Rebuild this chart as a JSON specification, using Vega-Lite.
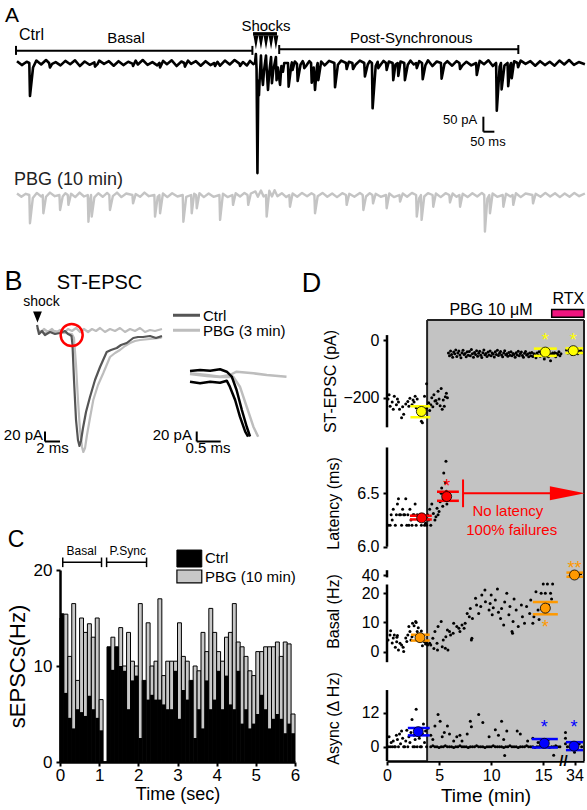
{"$schema":"https://vega.github.io/schema/vega-lite/v6.json","background":"white","padding":0,"width":587,"height":810,
"config":{"view":{"stroke":null},"font":"Liberation Sans","text":{"font":"Liberation Sans"},"axis":{"grid":false,"tickColor":"#000","labelColor":"#000","titleColor":"#000","domainColor":"#000","labelFont":"Liberation Sans","titleFont":"Liberation Sans","titleFontWeight":"normal","tickWidth":2,"tickSize":4,"domainWidth":2.5,"labelFontSize":16,"titleFontSize":16,"labelOverlap":false,"labelFlush":false}},
"datasets":{
"aBlack":[{"x":0,"y":6},{"x":22,"y":-7},{"x":44,"y":4},{"x":56,"y":0},{"x":59,"y":-110},{"x":73,"y":-15},{"x":88,"y":8},{"x":110,"y":-5},{"x":132,"y":10},{"x":146,"y":0},{"x":150,"y":-15},{"x":160,"y":-3},{"x":176,"y":3},{"x":198,"y":-8},{"x":220,"y":7},{"x":242,"y":-4},{"x":264,"y":9},{"x":286,"y":-10},{"x":308,"y":5},{"x":330,"y":-6},{"x":352,"y":2},{"x":355,"y":-12},{"x":366,"y":-4},{"x":374,"y":8},{"x":396,"y":-3},{"x":418,"y":6},{"x":440,"y":-9},{"x":462,"y":6},{"x":484,"y":-7},{"x":506,"y":4},{"x":525,"y":-2},{"x":528,"y":-10},{"x":540,"y":8},{"x":550,"y":-5},{"x":572,"y":10},{"x":594,"y":-6},{"x":616,"y":3},{"x":638,"y":-8},{"x":648,"y":0},{"x":651,"y":-15},{"x":665,"y":7},{"x":682,"y":-4},{"x":704,"y":9},{"x":726,"y":-10},{"x":748,"y":5},{"x":761,"y":0},{"x":764,"y":-12},{"x":778,"y":8},{"x":792,"y":-3},{"x":814,"y":6},{"x":836,"y":-9},{"x":858,"y":6},{"x":880,"y":-7},{"x":898,"y":0},{"x":901,"y":-10},{"x":912,"y":4},{"x":924,"y":-9},{"x":946,"y":8},{"x":968,"y":-5},{"x":990,"y":10},{"x":1012,"y":-2},{"x":1015,"y":-10},{"x":1028,"y":3},{"x":1046,"y":-8},{"x":1060,"y":7},{"x":1075,"y":-4},{"x":1083,"y":0},{"x":1087,"y":30},{"x":1090,"y":-20},{"x":1094,"y":-367},{"x":1098,"y":-60},{"x":1101,"y":-107},{"x":1105,"y":-40},{"x":1110,"y":25},{"x":1113,"y":-30},{"x":1119,"y":-73},{"x":1124,"y":-25},{"x":1133,"y":25},{"x":1136,"y":-20},{"x":1142,"y":-90},{"x":1148,"y":-30},{"x":1156,"y":20},{"x":1160,"y":-67},{"x":1166,"y":-25},{"x":1178,"y":20},{"x":1181,"y":-57},{"x":1187,"y":-15},{"x":1197,"y":-73},{"x":1203,"y":-10},{"x":1210,"y":-29},{"x":1216,"y":0},{"x":1233,"y":0},{"x":1236,"y":-79},{"x":1248,"y":-8},{"x":1251,"y":2},{"x":1254,"y":-23},{"x":1264,"y":5},{"x":1274,"y":-3},{"x":1277,"y":-60},{"x":1290,"y":-6},{"x":1300,"y":6},{"x":1304,"y":0},{"x":1307,"y":-17},{"x":1318,"y":-7},{"x":1330,"y":6},{"x":1338,"y":0},{"x":1341,"y":-66},{"x":1350,"y":-15},{"x":1356,"y":-90},{"x":1365,"y":-10},{"x":1368,"y":0},{"x":1371,"y":-57},{"x":1384,"y":5},{"x":1400,"y":-8},{"x":1420,"y":7},{"x":1444,"y":0},{"x":1447,"y":-81},{"x":1460,"y":-6},{"x":1475,"y":8},{"x":1497,"y":0},{"x":1500,"y":-20},{"x":1510,"y":4},{"x":1526,"y":0},{"x":1529,"y":-20},{"x":1540,"y":-6},{"x":1560,"y":8},{"x":1580,"y":0},{"x":1583,"y":-45},{"x":1596,"y":-5},{"x":1605,"y":6},{"x":1615,"y":0},{"x":1618,"y":-151},{"x":1632,"y":-10},{"x":1641,"y":4},{"x":1644,"y":-17},{"x":1656,"y":-4},{"x":1668,"y":7},{"x":1679,"y":0},{"x":1682,"y":-23},{"x":1692,"y":5},{"x":1709,"y":0},{"x":1712,"y":-57},{"x":1722,"y":-5},{"x":1732,"y":0},{"x":1735,"y":-43},{"x":1745,"y":5},{"x":1762,"y":0},{"x":1765,"y":-57},{"x":1778,"y":-6},{"x":1790,"y":8},{"x":1805,"y":-5},{"x":1816,"y":0},{"x":1819,"y":-17},{"x":1830,"y":6},{"x":1843,"y":0},{"x":1846,"y":-54},{"x":1858,"y":-8},{"x":1870,"y":9},{"x":1890,"y":-10},{"x":1910,"y":5},{"x":1929,"y":0},{"x":1932,"y":-52},{"x":1945,"y":-3},{"x":1958,"y":6},{"x":1980,"y":-9},{"x":2000,"y":6},{"x":2013,"y":0},{"x":2016,"y":-20},{"x":2028,"y":-7},{"x":2045,"y":4},{"x":2067,"y":-8},{"x":2089,"y":0},{"x":2092,"y":-40},{"x":2105,"y":7},{"x":2125,"y":-4},{"x":2145,"y":9},{"x":2165,"y":-10},{"x":2180,"y":0},{"x":2183,"y":-159},{"x":2196,"y":-12},{"x":2202,"y":0},{"x":2205,"y":-88},{"x":2218,"y":-8},{"x":2232,"y":0},{"x":2235,"y":-77},{"x":2245,"y":-5},{"x":2248,"y":0},{"x":2251,"y":-51},{"x":2262,"y":6},{"x":2277,"y":0},{"x":2280,"y":-14},{"x":2292,"y":8},{"x":2314,"y":-3},{"x":2336,"y":6},{"x":2358,"y":-9},{"x":2380,"y":6},{"x":2402,"y":-7},{"x":2424,"y":4},{"x":2446,"y":-9},{"x":2468,"y":8},{"x":2490,"y":-5},{"x":2512,"y":10},{"x":2534,"y":-6},{"x":2556,"y":3},{"x":2584,"y":-4}],
"aGray":[{"x":0,"y":5},{"x":20,"y":-6},{"x":40,"y":4},{"x":56,"y":0},{"x":59,"y":-94},{"x":72,"y":-10},{"x":90,"y":7},{"x":110,"y":-5},{"x":117,"y":0},{"x":120,"y":-61},{"x":132,"y":-6},{"x":150,"y":8},{"x":172,"y":-4},{"x":193,"y":0},{"x":196,"y":-50},{"x":208,"y":-5},{"x":220,"y":6},{"x":231,"y":0},{"x":234,"y":-33},{"x":246,"y":4},{"x":265,"y":-7},{"x":285,"y":8},{"x":305,"y":-5},{"x":322,"y":0},{"x":325,"y":-89},{"x":332,"y":-15},{"x":337,"y":0},{"x":340,"y":-72},{"x":352,"y":-8},{"x":370,"y":6},{"x":390,"y":-6},{"x":410,"y":7},{"x":420,"y":0},{"x":423,"y":-50},{"x":436,"y":-4},{"x":455,"y":8},{"x":475,"y":-7},{"x":497,"y":5},{"x":525,"y":0},{"x":528,"y":-28},{"x":540,"y":3},{"x":560,"y":-6},{"x":580,"y":8},{"x":600,"y":-4},{"x":625,"y":0},{"x":628,"y":-72},{"x":640,"y":-6},{"x":648,"y":0},{"x":651,"y":-61},{"x":664,"y":5},{"x":684,"y":-7},{"x":706,"y":6},{"x":730,"y":-5},{"x":754,"y":0},{"x":757,"y":-89},{"x":770,"y":-6},{"x":792,"y":0},{"x":795,"y":-61},{"x":806,"y":4},{"x":815,"y":0},{"x":818,"y":-44},{"x":830,"y":6},{"x":850,"y":-7},{"x":872,"y":5},{"x":894,"y":-6},{"x":921,"y":0},{"x":924,"y":-83},{"x":937,"y":4},{"x":958,"y":-7},{"x":980,"y":0},{"x":983,"y":-33},{"x":995,"y":6},{"x":1015,"y":-5},{"x":1035,"y":7},{"x":1049,"y":0},{"x":1052,"y":-33},{"x":1064,"y":5},{"x":1085,"y":12},{"x":1096,"y":-6},{"x":1110,"y":15},{"x":1122,"y":-5},{"x":1133,"y":0},{"x":1136,"y":-72},{"x":1148,"y":14},{"x":1160,"y":-5},{"x":1172,"y":16},{"x":1185,"y":-4},{"x":1205,"y":6},{"x":1225,"y":-7},{"x":1239,"y":0},{"x":1242,"y":-39},{"x":1254,"y":5},{"x":1275,"y":-6},{"x":1297,"y":7},{"x":1320,"y":-4},{"x":1340,"y":6},{"x":1353,"y":0},{"x":1356,"y":-61},{"x":1368,"y":-4},{"x":1390,"y":7},{"x":1412,"y":-6},{"x":1434,"y":5},{"x":1456,"y":-7},{"x":1480,"y":6},{"x":1497,"y":0},{"x":1500,"y":-33},{"x":1512,"y":4},{"x":1535,"y":-6},{"x":1560,"y":7},{"x":1573,"y":0},{"x":1576,"y":-50},{"x":1588,"y":-5},{"x":1605,"y":6},{"x":1617,"y":0},{"x":1620,"y":-28},{"x":1632,"y":4},{"x":1655,"y":-6},{"x":1679,"y":0},{"x":1682,"y":-44},{"x":1694,"y":5},{"x":1715,"y":-7},{"x":1740,"y":0},{"x":1743,"y":-22},{"x":1755,"y":5},{"x":1775,"y":-6},{"x":1797,"y":7},{"x":1816,"y":0},{"x":1819,"y":-72},{"x":1830,"y":-10},{"x":1838,"y":0},{"x":1841,"y":-83},{"x":1853,"y":-5},{"x":1870,"y":6},{"x":1891,"y":0},{"x":1894,"y":-39},{"x":1906,"y":5},{"x":1928,"y":-7},{"x":1950,"y":6},{"x":1967,"y":0},{"x":1970,"y":-25},{"x":1982,"y":5},{"x":2000,"y":-6},{"x":2013,"y":0},{"x":2016,"y":-39},{"x":2028,"y":4},{"x":2050,"y":-7},{"x":2072,"y":6},{"x":2094,"y":-5},{"x":2115,"y":7},{"x":2126,"y":0},{"x":2129,"y":-122},{"x":2140,"y":-12},{"x":2149,"y":0},{"x":2152,"y":-61},{"x":2164,"y":5},{"x":2185,"y":-6},{"x":2210,"y":0},{"x":2213,"y":-39},{"x":2225,"y":4},{"x":2245,"y":-5},{"x":2255,"y":0},{"x":2258,"y":-33},{"x":2270,"y":6},{"x":2292,"y":-7},{"x":2314,"y":5},{"x":2345,"y":0},{"x":2348,"y":-28},{"x":2360,"y":4},{"x":2382,"y":-6},{"x":2404,"y":7},{"x":2426,"y":-5},{"x":2448,"y":6},{"x":2470,"y":-7},{"x":2492,"y":5},{"x":2514,"y":-6},{"x":2536,"y":7},{"x":2558,"y":-4},{"x":2584,"y":5}],
"bCtrl":[{"x":-0.13,"y":16},{"x":0.13,"y":-2},{"x":0.53,"y":4},{"x":0.93,"y":-4},{"x":1.6,"y":2},{"x":2.27,"y":-2},{"x":2.93,"y":0},{"x":3.6,"y":4},{"x":4.0,"y":-2},{"x":4.27,"y":-4},{"x":4.47,"y":-6},{"x":4.6,"y":-24},{"x":4.8,"y":-94},{"x":5.07,"y":-174},{"x":5.33,"y":-214},{"x":5.53,"y":-226},{"x":5.73,"y":-216},{"x":6.0,"y":-190},{"x":6.4,"y":-158},{"x":6.93,"y":-128},{"x":7.6,"y":-94},{"x":8.27,"y":-68},{"x":9.16,"y":-38},{"x":9.73,"y":-34},{"x":10.5,"y":-30},{"x":11.07,"y":-24},{"x":11.83,"y":-20},{"x":12.7,"y":-10},{"x":13.33,"y":-8},{"x":14.0,"y":-8},{"x":14.93,"y":-6},{"x":15.73,"y":-10},{"x":16.53,"y":-6}],
"bPbg":[{"x":-0.13,"y":6},{"x":0.93,"y":0},{"x":2.27,"y":4},{"x":3.6,"y":0},{"x":4.53,"y":-2},{"x":4.8,"y":-10},{"x":5.07,"y":-64},{"x":5.33,"y":-134},{"x":5.6,"y":-194},{"x":5.87,"y":-228},{"x":6.04,"y":-238},{"x":6.27,"y":-230},{"x":6.53,"y":-204},{"x":6.93,"y":-170},{"x":7.37,"y":-134},{"x":8.0,"y":-104},{"x":8.71,"y":-80},{"x":9.6,"y":-48},{"x":10.27,"y":-40},{"x":10.93,"y":-34},{"x":11.6,"y":-26},{"x":12.27,"y":-20},{"x":12.93,"y":-16},{"x":13.6,"y":-14},{"x":14.93,"y":-12},{"x":16.27,"y":-10},{"x":16.53,"y":-8}],
"bFail":[{"x":-0.13,"y":10},{"x":0.27,"y":0},{"x":0.8,"y":8},{"x":1.33,"y":2},{"x":1.87,"y":8},{"x":2.4,"y":0},{"x":2.93,"y":6},{"x":3.47,"y":0},{"x":4.0,"y":8},{"x":4.53,"y":4},{"x":5.07,"y":10},{"x":5.6,"y":2},{"x":6.13,"y":8},{"x":6.67,"y":2},{"x":7.2,"y":8},{"x":7.73,"y":4},{"x":8.27,"y":10},{"x":8.93,"y":2},{"x":9.6,"y":8},{"x":10.27,"y":4},{"x":10.93,"y":10},{"x":11.6,"y":2},{"x":12.27,"y":8},{"x":12.93,"y":4},{"x":13.6,"y":10},{"x":14.27,"y":2},{"x":14.93,"y":6},{"x":15.6,"y":4},{"x":16.53,"y":8}],
"iB1":[{"x":0,"y":8},{"x":0.21,"y":10},{"x":0.42,"y":8.6},{"x":0.625,"y":11.4},{"x":0.765,"y":6.6},{"x":0.87,"y":-3.4},{"x":0.97,"y":-30},{"x":1.08,"y":-70},{"x":1.18,"y":-103},{"x":1.25,"y":-123}],
"iB2":[{"x":0,"y":-13.4},{"x":0.21,"y":-16.6},{"x":0.42,"y":-13.4},{"x":0.625,"y":-15.4},{"x":0.765,"y":-11.4},{"x":0.83,"y":-23.4},{"x":0.94,"y":-50},{"x":1.04,"y":-83.4},{"x":1.15,"y":-113.4},{"x":1.21,"y":-123.4}],
"iGF":[{"x":0,"y":3.4},{"x":0.35,"y":0},{"x":0.625,"y":-3.4},{"x":0.83,"y":0},{"x":0.97,"y":6.6},{"x":1.32,"y":3.4},{"x":1.6,"y":0},{"x":2.01,"y":-3.4}],
"iGR":[{"x":0,"y":2},{"x":0.35,"y":-2},{"x":0.625,"y":-4},{"x":0.9,"y":-3.4},{"x":1.04,"y":-23.4},{"x":1.18,"y":-63.4},{"x":1.32,"y":-103.4},{"x":1.42,"y":-123.4}],
"cHist":[{"t":0.0,"t2":0.1,"c":15.5,"p":15.0},{"t":0.1,"t2":0.2,"c":7.2,"p":15.4},{"t":0.2,"t2":0.3,"c":4.6,"p":11.0},{"t":0.3,"t2":0.4,"c":3.5,"p":16.5},{"t":0.4,"t2":0.5,"c":5.5,"p":8.5},{"t":0.5,"t2":0.6,"c":5.2,"p":15.0},{"t":0.6,"t2":0.7,"c":4.8,"p":13.5},{"t":0.7,"t2":0.8,"c":6.9,"p":14.4},{"t":0.8,"t2":0.9,"c":5.5,"p":13.0},{"t":0.9,"t2":1.0,"c":4.6,"p":15.0},{"t":1.0,"t2":1.1,"c":3.3,"p":6.5},{"t":1.1,"t2":1.2,"c":0,"p":0},{"t":1.2,"t2":1.3,"c":12.0,"p":12.0},{"t":1.3,"t2":1.4,"c":9.6,"p":13.0},{"t":1.4,"t2":1.5,"c":12.0,"p":12.0},{"t":1.5,"t2":1.6,"c":10.0,"p":14.0},{"t":1.6,"t2":1.7,"c":9.5,"p":10.0},{"t":1.7,"t2":1.8,"c":5.5,"p":13.5},{"t":1.8,"t2":1.9,"c":8.5,"p":10.5},{"t":1.9,"t2":2.0,"c":9.0,"p":10.0},{"t":2.0,"t2":2.1,"c":2.5,"p":16.5},{"t":2.1,"t2":2.2,"c":8.5,"p":8.5},{"t":2.2,"t2":2.3,"c":6.5,"p":14.5},{"t":2.3,"t2":2.4,"c":7.0,"p":10.0},{"t":2.4,"t2":2.5,"c":6.5,"p":10.5},{"t":2.5,"t2":2.6,"c":6.5,"p":17.0},{"t":2.6,"t2":2.7,"c":6.0,"p":9.0},{"t":2.7,"t2":2.8,"c":5.5,"p":10.5},{"t":2.8,"t2":2.9,"c":5.5,"p":10.5},{"t":2.9,"t2":3.0,"c":9.5,"p":10.5},{"t":3.0,"t2":3.1,"c":4.5,"p":14.5},{"t":3.1,"t2":3.2,"c":7.5,"p":11.0},{"t":3.2,"t2":3.3,"c":6.5,"p":10.5},{"t":3.3,"t2":3.4,"c":8.5,"p":8.5},{"t":3.4,"t2":3.5,"c":2.5,"p":10.0},{"t":3.5,"t2":3.6,"c":5.5,"p":9.5},{"t":3.6,"t2":3.7,"c":3.5,"p":13.5},{"t":3.7,"t2":3.8,"c":8.5,"p":11.5},{"t":3.8,"t2":3.9,"c":5.5,"p":16.0},{"t":3.9,"t2":4.0,"c":6.5,"p":13.5},{"t":4.0,"t2":4.1,"c":9.5,"p":11.5},{"t":4.1,"t2":4.2,"c":5.5,"p":10.5},{"t":4.2,"t2":4.3,"c":9.0,"p":13.0},{"t":4.3,"t2":4.4,"c":6.0,"p":13.5},{"t":4.4,"t2":4.5,"c":5.5,"p":16.5},{"t":4.5,"t2":4.6,"c":9.5,"p":12.5},{"t":4.6,"t2":4.7,"c":4.0,"p":12.0},{"t":4.7,"t2":4.8,"c":5.5,"p":11.0},{"t":4.8,"t2":4.9,"c":3.5,"p":9.5},{"t":4.9,"t2":5.0,"c":4.0,"p":9.0},{"t":5.0,"t2":5.1,"c":5.0,"p":11.5},{"t":5.1,"t2":5.2,"c":7.0,"p":11.5},{"t":5.2,"t2":5.3,"c":5.5,"p":12.0},{"t":5.3,"t2":5.4,"c":3.5,"p":12.0},{"t":5.4,"t2":5.5,"c":4.5,"p":12.0},{"t":5.5,"t2":5.6,"c":5.0,"p":12.5},{"t":5.6,"t2":5.7,"c":4.5,"p":11.0},{"t":5.7,"t2":5.8,"c":3.0,"p":12.5},{"t":5.8,"t2":5.9,"c":4.0,"p":12.3},{"t":5.9,"t2":6.0,"c":3.0,"p":5.0}],
"dSt":[{"x":0.1,"y":-205},{"x":0.2,"y":-190},{"x":0.3,"y":-230},{"x":0.5,"y":-215},{"x":0.6,"y":-240},{"x":0.7,"y":-195},{"x":0.9,"y":-225},{"x":1.0,"y":-205},{"x":1.1,"y":-215},{"x":1.2,"y":-240},{"x":1.4,"y":-270},{"x":1.5,"y":-232},{"x":1.6,"y":-258},{"x":1.8,"y":-222},{"x":2.0,"y":-213},{"x":2.1,"y":-230},{"x":2.2,"y":-202},{"x":2.4,"y":-225},{"x":2.5,"y":-208},{"x":2.6,"y":-215},{"x":2.7,"y":-195},{"x":2.8,"y":-235},{"x":2.9,"y":-205},{"x":3.0,"y":-245},{"x":3.1,"y":-258},{"x":3.2,"y":-240},{"x":3.3,"y":-282},{"x":3.4,"y":-287},{"x":3.6,"y":-195},{"x":3.7,"y":-250},{"x":3.8,"y":-152},{"x":3.8,"y":-236},{"x":4.0,"y":-218},{"x":4.1,"y":-245},{"x":4.2,"y":-225},{"x":4.3,"y":-200},{"x":4.4,"y":-232},{"x":4.5,"y":-190},{"x":4.6,"y":-212},{"x":4.7,"y":-210},{"x":4.8,"y":-220},{"x":4.9,"y":-178},{"x":5.0,"y":-205},{"x":5.1,"y":-228},{"x":5.2,"y":-168},{"x":5.3,"y":-240},{"x":5.4,"y":-208},{"x":5.5,"y":-230},{"x":5.6,"y":-197},{"x":5.7,"y":-185},{"x":5.8,"y":-200},{"x":5.9,"y":-45},{"x":6.0,"y":-55},{"x":6.1,"y":-38},{"x":6.2,"y":-50},{"x":6.3,"y":-60},{"x":6.4,"y":-42},{"x":6.5,"y":-48},{"x":6.6,"y":-35},{"x":6.7,"y":-57},{"x":6.8,"y":-45},{"x":6.9,"y":-38},{"x":7.0,"y":-52},{"x":7.1,"y":-62},{"x":7.2,"y":-44},{"x":7.3,"y":-36},{"x":7.4,"y":-50},{"x":7.5,"y":-47},{"x":7.6,"y":-58},{"x":7.7,"y":-41},{"x":7.8,"y":-53},{"x":7.9,"y":-40},{"x":8.0,"y":-55},{"x":8.1,"y":-33},{"x":8.2,"y":-48},{"x":8.3,"y":-60},{"x":8.4,"y":-43},{"x":8.5,"y":-50},{"x":8.6,"y":-37},{"x":8.7,"y":-56},{"x":8.8,"y":-46},{"x":8.9,"y":-39},{"x":9.0,"y":-53},{"x":9.1,"y":-61},{"x":9.2,"y":-44},{"x":9.3,"y":-35},{"x":9.4,"y":-51},{"x":9.5,"y":-47},{"x":9.6,"y":-57},{"x":9.7,"y":-42},{"x":9.8,"y":-52},{"x":9.9,"y":-38},{"x":10.0,"y":-55},{"x":10.1,"y":-45},{"x":10.2,"y":-49},{"x":10.3,"y":-59},{"x":10.4,"y":-41},{"x":10.5,"y":-50},{"x":10.6,"y":-36},{"x":10.7,"y":-54},{"x":10.8,"y":-46},{"x":10.9,"y":-40},{"x":11.0,"y":-52},{"x":11.1,"y":-58},{"x":11.2,"y":-45},{"x":11.3,"y":-37},{"x":11.4,"y":-51},{"x":11.5,"y":-48},{"x":11.6,"y":-56},{"x":11.7,"y":-43},{"x":11.8,"y":-53},{"x":11.9,"y":-41},{"x":12.0,"y":-55},{"x":12.1,"y":-47},{"x":12.2,"y":-50},{"x":12.3,"y":-60},{"x":12.4,"y":-44},{"x":12.5,"y":-52},{"x":12.6,"y":-39},{"x":12.7,"y":-55},{"x":12.8,"y":-47},{"x":12.9,"y":-42},{"x":13.0,"y":-54},{"x":13.1,"y":-60},{"x":13.2,"y":-46},{"x":13.3,"y":-40},{"x":13.4,"y":-52},{"x":13.5,"y":-49},{"x":13.6,"y":-58},{"x":13.7,"y":-45},{"x":13.8,"y":-55},{"x":13.9,"y":-43},{"x":14.0,"y":-57},{"x":14.1,"y":-48},{"x":14.2,"y":-51},{"x":14.3,"y":-62},{"x":14.4,"y":-45},{"x":14.5,"y":-53},{"x":14.6,"y":-41},{"x":14.7,"y":-56},{"x":14.8,"y":-49},{"x":14.9,"y":-44},{"x":15.0,"y":-55},{"x":15.1,"y":-66},{"x":15.2,"y":-47},{"x":15.3,"y":-40},{"x":15.4,"y":-52},{"x":15.5,"y":-58},{"x":15.6,"y":-48},{"x":15.7,"y":-72},{"x":15.8,"y":-50},{"x":15.9,"y":-45},{"x":16.0,"y":-52},{"x":16.1,"y":-44},{"x":16.2,"y":-58},{"x":16.3,"y":-47},{"x":16.4,"y":-50},{"x":16.5,"y":-41},{"x":16.6,"y":-55},{"x":16.7,"y":-48},{"x":32.3,"y":-35},{"x":32.6,"y":-45},{"x":32.9,"y":-30},{"x":33.2,"y":-42},{"x":33.5,"y":-50},{"x":33.8,"y":-38},{"x":34.1,"y":-45},{"x":34.4,"y":-33},{"x":34.7,"y":-48},{"x":35.0,"y":-40},{"x":35.3,"y":-36},{"x":35.6,"y":-44}],
"dLat":[{"x":0.1,"y":6.2},{"x":0.3,"y":6.2},{"x":0.4,"y":6.3},{"x":0.5,"y":6.25},{"x":0.6,"y":6.35},{"x":0.8,"y":6.2},{"x":0.9,"y":6.3},{"x":1.0,"y":6.4},{"x":1.1,"y":6.45},{"x":1.2,"y":6.3},{"x":1.3,"y":6.3},{"x":1.4,"y":6.2},{"x":1.5,"y":6.35},{"x":1.6,"y":6.3},{"x":1.7,"y":6.3},{"x":1.8,"y":6.45},{"x":1.9,"y":6.2},{"x":2.0,"y":6.3},{"x":2.1,"y":6.2},{"x":2.2,"y":6.35},{"x":2.3,"y":6.25},{"x":2.4,"y":6.2},{"x":2.5,"y":6.3},{"x":2.6,"y":6.3},{"x":2.7,"y":6.4},{"x":2.8,"y":6.2},{"x":2.9,"y":6.3},{"x":3.0,"y":6.25},{"x":3.2,"y":6.3},{"x":3.3,"y":6.2},{"x":3.4,"y":6.25},{"x":3.5,"y":6.3},{"x":3.6,"y":6.2},{"x":3.7,"y":6.22},{"x":3.8,"y":6.2},{"x":3.9,"y":6.3},{"x":4.0,"y":6.25},{"x":4.1,"y":6.35},{"x":4.2,"y":6.2},{"x":4.3,"y":6.4},{"x":4.45,"y":6.31},{"x":4.6,"y":6.25},{"x":4.7,"y":6.28},{"x":4.8,"y":6.36},{"x":4.9,"y":6.3},{"x":5.0,"y":6.33},{"x":5.1,"y":6.42},{"x":5.2,"y":6.5},{"x":5.25,"y":6.55},{"x":5.35,"y":6.38},{"x":5.4,"y":6.45},{"x":5.45,"y":6.69},{"x":5.5,"y":6.44},{"x":5.55,"y":6.5},{"x":5.6,"y":6.48},{"x":5.62,"y":6.6},{"x":5.66,"y":6.8},{"x":5.7,"y":6.52},{"x":5.75,"y":6.4},{"x":5.8,"y":6.46},{"x":5.9,"y":6.5},{"x":6.0,"y":6.47}],
"dBas":[{"x":0.1,"y":4.0},{"x":0.29,"y":5.7},{"x":0.35,"y":7.2},{"x":0.5,"y":3.0},{"x":0.6,"y":4.7},{"x":0.7,"y":5.7},{"x":0.8,"y":1.5},{"x":0.93,"y":3.4},{"x":0.95,"y":4.9},{"x":1.0,"y":5.5},{"x":1.1,"y":0.6},{"x":1.25,"y":2.9},{"x":1.4,"y":2.3},{"x":1.55,"y":1.5},{"x":1.6,"y":0.1},{"x":1.8,"y":4.7},{"x":1.9,"y":3.5},{"x":2.0,"y":5.7},{"x":2.1,"y":8.6},{"x":2.2,"y":6.9},{"x":2.3,"y":4.0},{"x":2.4,"y":5.1},{"x":2.45,"y":9.7},{"x":2.6,"y":8.9},{"x":2.75,"y":10.3},{"x":2.8,"y":10.0},{"x":2.9,"y":6.9},{"x":3.0,"y":8.2},{"x":3.2,"y":5.0},{"x":3.3,"y":7.1},{"x":3.4,"y":2.0},{"x":3.5,"y":3.7},{"x":3.6,"y":3.4},{"x":3.7,"y":2.6},{"x":3.8,"y":2.9},{"x":3.9,"y":2.3},{"x":4.1,"y":2.9},{"x":4.2,"y":2.3},{"x":4.4,"y":4.6},{"x":4.5,"y":1.1},{"x":4.6,"y":6.9},{"x":4.8,"y":2.9},{"x":4.85,"y":0.6},{"x":4.9,"y":8.6},{"x":5.2,"y":10.3},{"x":5.3,"y":1.7},{"x":5.4,"y":4.0},{"x":5.6,"y":1.2},{"x":5.65,"y":5.1},{"x":5.8,"y":7.4},{"x":5.85,"y":0.6},{"x":6.0,"y":6.9},{"x":6.1,"y":5.7},{"x":6.35,"y":6.3},{"x":6.4,"y":9.7},{"x":6.7,"y":8.6},{"x":6.9,"y":8.0},{"x":7.0,"y":6.9},{"x":7.2,"y":9.1},{"x":7.4,"y":8.0},{"x":7.5,"y":9.7},{"x":7.7,"y":13.1},{"x":7.9,"y":12.0},{"x":8.0,"y":14.8},{"x":8.1,"y":4.0},{"x":8.15,"y":4.6},{"x":8.2,"y":11.4},{"x":8.5,"y":18.3},{"x":8.6,"y":16.0},{"x":8.8,"y":13.1},{"x":9.0,"y":15.5},{"x":9.1,"y":19.4},{"x":9.4,"y":21.1},{"x":9.45,"y":17.1},{"x":9.8,"y":14.3},{"x":9.9,"y":16.5},{"x":10.0,"y":19.4},{"x":10.1,"y":12.6},{"x":10.2,"y":15.0},{"x":10.4,"y":17.7},{"x":10.6,"y":21.5},{"x":10.7,"y":13.5},{"x":10.9,"y":11.4},{"x":11.0,"y":14.8},{"x":11.2,"y":9.1},{"x":11.3,"y":17.0},{"x":11.5,"y":20.0},{"x":11.7,"y":12.6},{"x":11.8,"y":15.5},{"x":12.0,"y":6.9},{"x":12.05,"y":6.3},{"x":12.1,"y":10.3},{"x":12.2,"y":18.0},{"x":12.4,"y":14.3},{"x":12.6,"y":8.6},{"x":12.9,"y":16.0},{"x":13.0,"y":12.0},{"x":13.2,"y":9.7},{"x":13.4,"y":15.5},{"x":13.7,"y":13.1},{"x":13.8,"y":17.7},{"x":14.0,"y":9.7},{"x":14.1,"y":12.0},{"x":14.3,"y":20.5},{"x":14.5,"y":14.3},{"x":14.6,"y":11.0},{"x":14.8,"y":20.0},{"x":15.0,"y":24},{"x":15.2,"y":20.0},{"x":15.4,"y":24},{"x":15.5,"y":16.0},{"x":15.7,"y":20.0},{"x":15.8,"y":18.0},{"x":15.9,"y":24},{"x":33.0,"y":38},{"x":33.5,"y":41},{"x":33.7,"y":37},{"x":34.2,"y":39},{"x":34.8,"y":40},{"x":35.3,"y":42}],
"dAsy":[{"x":0.1,"y":0},{"x":0.2,"y":3.5},{"x":0.3,"y":0},{"x":0.4,"y":1.5},{"x":0.5,"y":0},{"x":0.6,"y":2.0},{"x":0.7,"y":0},{"x":0.8,"y":0},{"x":0.9,"y":4.0},{"x":1.0,"y":2.5},{"x":1.1,"y":0},{"x":1.2,"y":4.5},{"x":1.3,"y":1.0},{"x":1.4,"y":5.5},{"x":1.5,"y":3.0},{"x":1.6,"y":0},{"x":1.7,"y":0},{"x":1.8,"y":2.0},{"x":1.9,"y":5.8},{"x":2.0,"y":0},{"x":2.1,"y":3.5},{"x":2.2,"y":1.5},{"x":2.3,"y":5.0},{"x":2.4,"y":9.6},{"x":2.5,"y":0},{"x":2.6,"y":4.0},{"x":2.65,"y":0},{"x":2.7,"y":2.5},{"x":2.8,"y":13.2},{"x":2.9,"y":0},{"x":3.0,"y":6.5},{"x":3.1,"y":3.0},{"x":3.2,"y":0},{"x":3.3,"y":0},{"x":3.4,"y":4.5},{"x":3.5,"y":8.0},{"x":3.6,"y":1.5},{"x":3.7,"y":5.5},{"x":3.8,"y":0},{"x":3.9,"y":6.5},{"x":4.2,"y":4.0},{"x":4.4,"y":2.5},{"x":4.6,"y":7.3},{"x":4.9,"y":11.4},{"x":5.1,"y":9.0},{"x":5.3,"y":3.5},{"x":5.5,"y":5.0},{"x":5.8,"y":7.3},{"x":6.0,"y":4.5},{"x":6.4,"y":2.0},{"x":6.7,"y":3.5},{"x":7.0,"y":4.0},{"x":7.2,"y":2.0},{"x":7.7,"y":4.5},{"x":8.0,"y":9.0},{"x":8.1,"y":7.0},{"x":8.8,"y":11.4},{"x":9.2,"y":8.5},{"x":9.8,"y":3.5},{"x":10.4,"y":6.0},{"x":10.7,"y":4.0},{"x":11.0,"y":9.0},{"x":11.2,"y":2.5},{"x":11.3,"y":-3.1},{"x":11.5,"y":5.5},{"x":12.5,"y":5.5},{"x":12.8,"y":4.5},{"x":13.5,"y":2.0},{"x":14.0,"y":3.0},{"x":14.5,"y":1.5},{"x":15.0,"y":2.0},{"x":15.5,"y":2.5},{"x":16.0,"y":-3.0},{"x":4.2,"y":0},{"x":4.4,"y":0.3},{"x":4.6,"y":0},{"x":4.8,"y":0},{"x":5.0,"y":-0.3},{"x":5.2,"y":0},{"x":5.4,"y":0},{"x":5.6,"y":0.3},{"x":5.8,"y":0},{"x":6.0,"y":0},{"x":6.2,"y":0},{"x":6.4,"y":-0.3},{"x":6.6,"y":0},{"x":6.8,"y":0},{"x":7.0,"y":0.3},{"x":7.2,"y":0},{"x":7.4,"y":0},{"x":7.6,"y":0},{"x":7.8,"y":-0.3},{"x":8.0,"y":0},{"x":8.2,"y":0},{"x":8.4,"y":0},{"x":8.6,"y":0.3},{"x":8.8,"y":0},{"x":9.0,"y":0},{"x":9.2,"y":0},{"x":9.4,"y":-0.3},{"x":9.6,"y":0},{"x":9.8,"y":0},{"x":10.0,"y":0},{"x":10.2,"y":0.3},{"x":10.4,"y":0},{"x":10.6,"y":0},{"x":10.8,"y":0},{"x":11.0,"y":0},{"x":11.2,"y":-0.3},{"x":11.4,"y":0},{"x":11.6,"y":0},{"x":11.8,"y":0.3},{"x":12.0,"y":0},{"x":12.2,"y":0},{"x":12.4,"y":0},{"x":12.6,"y":-0.3},{"x":12.8,"y":0},{"x":13.0,"y":0},{"x":13.2,"y":0},{"x":13.4,"y":0.3},{"x":13.6,"y":0},{"x":13.8,"y":0},{"x":14.0,"y":0},{"x":14.2,"y":-0.3},{"x":14.4,"y":0},{"x":14.6,"y":0},{"x":14.8,"y":0.3},{"x":15.0,"y":0},{"x":15.2,"y":0},{"x":15.4,"y":0},{"x":15.6,"y":-0.3},{"x":15.8,"y":0},{"x":16.0,"y":0},{"x":16.2,"y":0.3},{"x":16.4,"y":0},{"x":16.6,"y":0},{"x":32.1,"y":1},{"x":32.1,"y":3},{"x":32.1,"y":5},{"x":32.5,"y":0},{"x":33.0,"y":0},{"x":33.5,"y":1},{"x":34.0,"y":-2},{"x":34.5,"y":0},{"x":35.0,"y":1},{"x":35.5,"y":0}],
"m1":[{"x":3.3,"m":-248,"lo":-268,"hi":-230,"xl":2.25,"xr":4.15},{"x":15.2,"m":-42,"lo":-55,"hi":-30,"xl":14.1,"xr":16.3},{"x":33.75,"m":-37,"lo":-45,"hi":-29,"xl":32.1,"xr":35.8}],
"m2":[{"x":3.33,"m":6.27,"lo":6.255,"hi":6.29,"xl":2.2,"xr":4.3},{"x":5.73,"m":6.47,"lo":6.43,"hi":6.515,"xl":4.8,"xr":6.9}],
"m3":[{"x":3.17,"m":4.8,"lo":3.8,"hi":5.8,"xl":2.3,"xr":4.1},{"x":15.2,"m":14.9,"lo":12.8,"hi":17.0,"xl":14.0,"xr":16.4},{"x":34.0,"m":40,"lo":37,"hi":44,"xl":32.3,"xr":35.8}],
"m4":[{"x":3.0,"m":5.3,"lo":4.0,"hi":6.6,"xl":2.0,"xr":4.1},{"x":15.1,"m":1.2,"lo":-0.3,"hi":2.7,"xl":13.9,"xr":16.4},{"x":33.9,"m":0.2,"lo":-1.2,"hi":1.6,"xl":32.2,"xr":35.8}]
},
"layer":[
{"encoding":{"x":{"field":"x","type":"quantitative","scale":{"domain":[-77.35,2593.5],"range":[0,587],"nice":false,"zero":false},"axis":null},"y":{"field":"y","type":"quantitative","scale":{"domain":[-590,210],"range":[240,0],"nice":false,"zero":false},"axis":null}},
"layer":[
{"data":{"name":"aBlack"},"mark":{"type":"line","color":"#000","strokeWidth":2.6,"strokeJoin":"round"}},
{"data":{"values":[{"x":-4.5,"x2":1071,"y":41,"y2":41},{"x":-4.5,"x2":-4.5,"y":57,"y2":27},{"x":1071,"x2":1071,"y":57,"y2":27},{"x":1193,"x2":2281,"y":46,"y2":46},{"x":1193,"x2":1193,"y":60,"y2":30},{"x":2281,"x2":2281,"y":60,"y2":30},{"x":2122,"x2":2122,"y":-179,"y2":-229},{"x":2122,"x2":2172,"y":-229,"y2":-229}]},"mark":{"type":"rule","color":"#000","strokeWidth":2},"encoding":{"x2":{"field":"x2"},"y2":{"field":"y2"}}},
{"data":{"values":[{"x":1074,"x2":1183,"y":97}]},"mark":{"type":"rule","color":"#000","strokeWidth":3.5},"encoding":{"x2":{"field":"x2"}}},
{"data":{"values":[{"x":1087,"y":68},{"x":1110,"y":68},{"x":1133,"y":68},{"x":1156,"y":68},{"x":1178,"y":68}]},"mark":{"type":"point","shape":"M-0.35,-1L0.35,-1L0,1Z","size":196,"filled":true,"color":"#000","opacity":1}},
{"data":{"values":[{"x":-23,"y":157,"s":"A"}]},"mark":{"type":"text","fontSize":21,"align":"center","baseline":"middle","color":"#000"},"encoding":{"text":{"field":"s"}}},
{"data":{"values":[{"x":66,"y":93,"s":"Ctrl"}]},"mark":{"type":"text","fontSize":16,"align":"center","baseline":"middle","color":"#000"},"encoding":{"text":{"field":"s"}}},
{"data":{"values":[{"x":496,"y":85,"s":"Basal"},{"x":1133,"y":123,"s":"Shocks"},{"x":1794,"y":85,"s":"Post-Synchronous"}]},"mark":{"type":"text","fontSize":15,"align":"center","baseline":"middle","color":"#000"},"encoding":{"text":{"field":"s"}}},
{"data":{"values":[{"x":2016,"y":-190,"s":"50 pA"},{"x":2143,"y":-263,"s":"50 ms"}]},"mark":{"type":"text","fontSize":13,"align":"center","baseline":"middle","color":"#000"},"encoding":{"text":{"field":"s"}}},
{"data":{"values":[{"x":234,"y":-390,"s":"PBG (10 min)"}]},"mark":{"type":"text","fontSize":18,"align":"center","baseline":"middle","color":"#222"},"encoding":{"text":{"field":"s"}}}
]},
{"data":{"name":"aGray"},"mark":{"type":"line","color":"#c4c4c4","strokeWidth":2.4,"strokeJoin":"round"},"encoding":{"x":{"field":"x","type":"quantitative","scale":{"domain":[-77.35,2593.5],"range":[0,587],"nice":false,"zero":false},"axis":null},"y":{"field":"y","type":"quantitative","scale":{"domain":[-150,650],"range":[240,0],"nice":false,"zero":false},"axis":null}}},
{"encoding":{"x":{"field":"x","type":"quantitative","scale":{"domain":[-5.067,33.6],"range":[0,290],"nice":false,"zero":false},"axis":null},"y":{"field":"y","type":"quantitative","scale":{"domain":[-244,186],"range":[455,240],"nice":false,"zero":false},"axis":null}},
"layer":[
{"data":{"name":"bFail"},"mark":{"type":"line","color":"#bdbdbd","strokeWidth":2.2,"strokeJoin":"round"}},
{"data":{"name":"bPbg"},"mark":{"type":"line","color":"#bdbdbd","strokeWidth":2.2,"strokeJoin":"round"}},
{"data":{"name":"bCtrl"},"mark":{"type":"line","color":"#555","strokeWidth":2.2,"strokeJoin":"round"}},
{"data":{"values":[{"x":4.49,"y":-4}]},"mark":{"type":"point","shape":"circle","size":484,"filled":false,"stroke":"#ff0000","strokeWidth":2.5,"opacity":1}},
{"data":{"values":[{"x":-0.07,"y":32}]},"mark":{"type":"point","shape":"M-0.8,-1L0.8,-1L0,1Z","size":121,"filled":true,"color":"#000","opacity":1}},
{"data":{"values":[{"x":18,"x2":21.6,"y":35.5,"y2":35.5}]},"mark":{"type":"rule","color":"#555","strokeWidth":3},"encoding":{"x2":{"field":"x2"},"y2":{"field":"y2"}}},
{"data":{"values":[{"x":18,"x2":21.6,"y":5.5,"y2":5.5}]},"mark":{"type":"rule","color":"#bdbdbd","strokeWidth":3},"encoding":{"x2":{"field":"x2"},"y2":{"field":"y2"}}},
{"data":{"values":[{"x":0.93,"x2":0.93,"y":-197,"y2":-217},{"x":0.93,"x2":2.93,"y":-217,"y2":-217}]},"mark":{"type":"rule","color":"#000","strokeWidth":2},"encoding":{"x2":{"field":"x2"},"y2":{"field":"y2"}}},
{"data":{"values":[{"x":-3.27,"y":102,"s":"B"}]},"mark":{"type":"text","fontSize":27,"align":"center","baseline":"middle","color":"#000"},"encoding":{"text":{"field":"s"}}},
{"data":{"values":[{"x":8.2,"y":101,"s":"ST-EPSC"}]},"mark":{"type":"text","fontSize":20,"align":"center","baseline":"middle","color":"#000"},"encoding":{"text":{"field":"s"}}},
{"data":{"values":[{"x":0.47,"y":62,"s":"shock"}]},"mark":{"type":"text","fontSize":14,"align":"center","baseline":"middle","color":"#000"},"encoding":{"text":{"field":"s"}}},
{"data":{"values":[{"x":1.93,"y":-230,"s":"2 ms"}]},"mark":{"type":"text","fontSize":15,"align":"center","baseline":"middle","color":"#000"},"encoding":{"text":{"field":"s"}}},
{"data":{"values":[{"x":0.67,"y":-204,"s":"20 pA"}]},"mark":{"type":"text","fontSize":15,"align":"right","baseline":"middle","color":"#000"},"encoding":{"text":{"field":"s"}}},
{"data":{"values":[{"x":22,"y":35,"s":"Ctrl"},{"x":22,"y":4.5,"s":"PBG (3 min)"}]},"mark":{"type":"text","fontSize":15,"align":"left","baseline":"middle","color":"#000"},"encoding":{"text":{"field":"s"}}}
]},
{"encoding":{"x":{"field":"x","type":"quantitative","scale":{"domain":[-3.958,2.083],"range":[0,290],"nice":false,"zero":false},"axis":null},"y":{"field":"y","type":"quantitative","scale":{"domain":[-160,270],"range":[455,240],"nice":false,"zero":false},"axis":null}},
"layer":[
{"data":{"name":"iGF"},"mark":{"type":"line","color":"#bdbdbd","strokeWidth":2.5,"strokeJoin":"round"}},
{"data":{"name":"iGR"},"mark":{"type":"line","color":"#bdbdbd","strokeWidth":2.5,"strokeJoin":"round"}},
{"data":{"name":"iB1"},"mark":{"type":"line","color":"#000","strokeWidth":2.5,"strokeJoin":"round"}},
{"data":{"name":"iB2"},"mark":{"type":"line","color":"#000","strokeWidth":2.5,"strokeJoin":"round"}},
{"data":{"values":[{"x":0.14,"x2":0.14,"y":-113,"y2":-133},{"x":0.14,"x2":0.64,"y":-133,"y2":-133}]},"mark":{"type":"rule","color":"#000","strokeWidth":2},"encoding":{"x2":{"field":"x2"},"y2":{"field":"y2"}}},
{"data":{"values":[{"x":0.04,"y":-120,"s":"20 pA"}]},"mark":{"type":"text","fontSize":15,"align":"right","baseline":"middle","color":"#000"},"encoding":{"text":{"field":"s"}}},
{"data":{"values":[{"x":0.375,"y":-146,"s":"0.5 ms"}]},"mark":{"type":"text","fontSize":15,"align":"center","baseline":"middle","color":"#000"},"encoding":{"text":{"field":"s"}}}
]},
{"layer":[
{"data":{"name":"cHist"},"mark":{"type":"rect","fill":"#c8c8c8","stroke":"#000","strokeWidth":1},"encoding":{"x":{"field":"t","type":"quantitative","scale":{"domain":[0,6],"range":[60,295],"nice":false,"zero":false},"axis":{"orient":"bottom","offset":-48,"values":[0,1,2,3,4,5,6],"format":"d","title":"Time (sec)","labelFontSize":17,"titleFontSize":18,"labelPadding":1,"titlePadding":2}},"x2":{"field":"t2"},"y":{"field":"p","type":"quantitative","scale":{"domain":[0,20],"range":[762,570],"nice":false,"zero":false},"axis":{"orient":"left","offset":-60,"values":[0,10,20],"format":"d","title":"sEPSCs(Hz)","labelFontSize":17,"titleFontSize":22,"labelPadding":4,"titlePadding":4}},"y2":{"datum":0}}},
{"data":{"name":"cHist"},"mark":{"type":"rect","fill":"#000"},"encoding":{"x":{"field":"t","type":"quantitative","scale":{"domain":[0,6],"range":[60,295],"nice":false,"zero":false}},"x2":{"field":"t2"},"y":{"field":"c","type":"quantitative","scale":{"domain":[0,20],"range":[762,570],"nice":false,"zero":false}},"y2":{"datum":0}}},
{"encoding":{"x":{"field":"x","type":"quantitative","scale":{"domain":[0,6],"range":[60,295],"nice":false,"zero":false}},"y":{"field":"y","type":"quantitative","scale":{"domain":[0,20],"range":[762,570],"nice":false,"zero":false}}},
"layer":[
{"data":{"values":[{"x":0.07,"x2":1.06,"y":20.8,"y2":20.8},{"x":0.07,"x2":0.07,"y":20.3,"y2":21.3},{"x":1.06,"x2":1.06,"y":20.3,"y2":21.3},{"x":1.19,"x2":2.21,"y":20.8,"y2":20.8},{"x":1.19,"x2":1.19,"y":20.3,"y2":21.3},{"x":2.21,"x2":2.21,"y":20.3,"y2":21.3}]},"mark":{"type":"rule","color":"#000","strokeWidth":1.5},"encoding":{"x2":{"field":"x2"},"y2":{"field":"y2"}}},
{"data":{"values":[{"x":2.985,"x2":3.62,"y":22.08,"y2":20.31}]},"mark":{"type":"rect","fill":"#000","stroke":"#000","strokeWidth":1},"encoding":{"x2":{"field":"x2"},"y2":{"field":"y2"}}},
{"data":{"values":[{"x":2.985,"x2":3.62,"y":20.0,"y2":18.65}]},"mark":{"type":"rect","fill":"#c8c8c8","stroke":"#000","strokeWidth":1.2},"encoding":{"x2":{"field":"x2"},"y2":{"field":"y2"}}},
{"data":{"values":[{"x":3.7,"y":21.2,"s":"Ctrl"},{"x":3.7,"y":19.3,"s":"PBG (10 min)"}]},"mark":{"type":"text","fontSize":15,"align":"left","baseline":"middle","color":"#000"},"encoding":{"text":{"field":"s"}}},
{"data":{"values":[{"x":0.55,"y":22.0,"s":"Basal"},{"x":1.73,"y":22.0,"s":"P.Sync"}]},"mark":{"type":"text","fontSize":12,"align":"center","baseline":"middle","color":"#000"},"encoding":{"text":{"field":"s"}}},
{"data":{"values":[{"x":-1.12,"y":23.1,"s":"C"}]},"mark":{"type":"text","fontSize":23,"align":"center","baseline":"middle","color":"#000"},"encoding":{"text":{"field":"s"}}}
]}
]},
{"encoding":{"x":{"field":"x","type":"quantitative","scale":{"domain":[0,16.8,32,36],"range":[387,562,565,584],"nice":false,"zero":false},"axis":null},"y":{"field":"y","type":"quantitative","scale":{"domain":[-347,347],"range":[440,240],"nice":false,"zero":false},"axis":{"orient":"left","offset":-387,"values":[0,-200],"title":"ST-EPSC (pA)","domain":false,"labelPadding":4,"titleX":-57,"titleY":381,"titleAngle":270,"titleAlign":"center","titleBaseline":"middle"}}},
"layer":[
{"data":{"values":[{"x":3.85,"x2":36,"y":69.3,"y2":-347}]},"mark":{"type":"rect","fill":"#c3c3c3"},"encoding":{"x2":{"field":"x2"},"y2":{"field":"y2"}}},
{"data":{"values":[{"x":3.85,"x2":3.85,"y":69.3,"y2":-347},{"x":3.85,"x2":36,"y":69.3,"y2":69.3},{"x":36,"x2":36,"y":69.3,"y2":-347}]},"mark":{"type":"rule","color":"#222","strokeWidth":2},"encoding":{"x2":{"field":"x2"},"y2":{"field":"y2"}}},
{"data":{"values":[{"x":0,"x2":0,"y":17,"y2":-303}]},"mark":{"type":"rule","color":"#000","strokeWidth":2.5},"encoding":{"x2":{"field":"x2"},"y2":{"field":"y2"}}},
{"data":{"name":"dSt"},"mark":{"type":"circle","size":9,"color":"#000","opacity":1}},
{"data":{"name":"m1"},"mark":{"type":"rule","color":"#ffff00","strokeWidth":2.5},"encoding":{"y":{"field":"lo","type":"quantitative","scale":{"domain":[-347,347],"range":[440,240],"nice":false,"zero":false}},"y2":{"field":"hi"}}},
{"data":{"name":"m1"},"mark":{"type":"rule","color":"#ffff00","strokeWidth":2.5},"encoding":{"x":{"field":"xl","type":"quantitative","scale":{"domain":[0,16.8,32,36],"range":[387,562,565,584],"nice":false,"zero":false},"axis":null},"x2":{"field":"xr"},"y":{"field":"lo","type":"quantitative","scale":{"domain":[-347,347],"range":[440,240],"nice":false,"zero":false}}}},
{"data":{"name":"m1"},"mark":{"type":"rule","color":"#ffff00","strokeWidth":2.5},"encoding":{"x":{"field":"xl","type":"quantitative","scale":{"domain":[0,16.8,32,36],"range":[387,562,565,584],"nice":false,"zero":false},"axis":null},"x2":{"field":"xr"},"y":{"field":"hi","type":"quantitative","scale":{"domain":[-347,347],"range":[440,240],"nice":false,"zero":false}}}},
{"data":{"name":"m1"},"mark":{"type":"point","filled":true,"fill":"#ffff00","stroke":"#000","strokeWidth":0.8,"size":100,"opacity":1},"encoding":{"y":{"field":"m","type":"quantitative","scale":{"domain":[-347,347],"range":[440,240],"nice":false,"zero":false}}}},
{"data":{"values":[{"x":15.2,"y":-3,"s":"*"},{"x":33.75,"y":-3,"s":"*"}]},"mark":{"type":"text","fontSize":18,"align":"center","baseline":"middle","color":"#ffff00"},"encoding":{"text":{"field":"s"}}},
{"data":{"values":[{"x":15.81,"x2":36,"y":106,"y2":79}]},"mark":{"type":"rect","fill":"#f0147f","stroke":"#000","strokeWidth":1.5},"encoding":{"x2":{"field":"x2"},"y2":{"field":"y2"}}},
{"data":{"values":[{"x":-7.25,"y":194,"s":"D"}]},"mark":{"type":"text","fontSize":27,"align":"center","baseline":"middle","color":"#000"},"encoding":{"text":{"field":"s"}}},
{"data":{"values":[{"x":9.98,"y":104,"s":"PBG 10 μM"},{"x":32.7,"y":142,"s":"RTX"}]},"mark":{"type":"text","fontSize":16,"align":"center","baseline":"middle","color":"#000"},"encoding":{"text":{"field":"s"}}}
]},
{"encoding":{"x":{"field":"x","type":"quantitative","scale":{"domain":[0,16.8,32,36],"range":[387,562,565,584],"nice":false,"zero":false},"axis":null},"y":{"field":"y","type":"quantitative","scale":{"domain":[5.875,7.0],"range":[560,440],"nice":false,"zero":false},"axis":{"orient":"left","offset":-387,"values":[6,6.5],"format":".1f","title":"Latency (ms)","domain":false,"labelPadding":4,"titleX":-54,"titleY":503,"titleAngle":270,"titleAlign":"center","titleBaseline":"middle"}}},
"layer":[
{"data":{"values":[{"x":3.85,"x2":36,"y":7.0,"y2":5.875}]},"mark":{"type":"rect","fill":"#c3c3c3"},"encoding":{"x2":{"field":"x2"},"y2":{"field":"y2"}}},
{"data":{"values":[{"x":3.85,"x2":3.85,"y":7.0,"y2":5.875},{"x":36,"x2":36,"y":7.0,"y2":5.875}]},"mark":{"type":"rule","color":"#222","strokeWidth":2},"encoding":{"x2":{"field":"x2"},"y2":{"field":"y2"}}},
{"data":{"values":[{"x":0,"x2":0,"y":6.93,"y2":6.0}]},"mark":{"type":"rule","color":"#000","strokeWidth":2.5},"encoding":{"x2":{"field":"x2"},"y2":{"field":"y2"}}},
{"data":{"name":"dLat"},"mark":{"type":"circle","size":9,"color":"#000","opacity":1}},
{"data":{"name":"m2"},"mark":{"type":"rule","color":"#ff0000","strokeWidth":2.5},"encoding":{"y":{"field":"lo","type":"quantitative","scale":{"domain":[5.875,7.0],"range":[560,440],"nice":false,"zero":false}},"y2":{"field":"hi"}}},
{"data":{"name":"m2"},"mark":{"type":"rule","color":"#ff0000","strokeWidth":2.5},"encoding":{"x":{"field":"xl","type":"quantitative","scale":{"domain":[0,16.8,32,36],"range":[387,562,565,584],"nice":false,"zero":false},"axis":null},"x2":{"field":"xr"},"y":{"field":"lo","type":"quantitative","scale":{"domain":[5.875,7.0],"range":[560,440],"nice":false,"zero":false}}}},
{"data":{"name":"m2"},"mark":{"type":"rule","color":"#ff0000","strokeWidth":2.5},"encoding":{"x":{"field":"xl","type":"quantitative","scale":{"domain":[0,16.8,32,36],"range":[387,562,565,584],"nice":false,"zero":false},"axis":null},"x2":{"field":"xr"},"y":{"field":"hi","type":"quantitative","scale":{"domain":[5.875,7.0],"range":[560,440],"nice":false,"zero":false}}}},
{"data":{"name":"m2"},"mark":{"type":"point","filled":true,"fill":"#ff0000","stroke":"#000","strokeWidth":0.8,"size":100,"opacity":1},"encoding":{"y":{"field":"m","type":"quantitative","scale":{"domain":[5.875,7.0],"range":[560,440],"nice":false,"zero":false}}}},
{"data":{"values":[{"x":5.73,"y":6.56,"s":"*"}]},"mark":{"type":"text","fontSize":18,"align":"center","baseline":"middle","color":"#ff0000"},"encoding":{"text":{"field":"s"}}},
{"data":{"values":[{"x":7.3,"x2":32.5,"y":6.5,"y2":6.5},{"x":7.3,"x2":7.3,"y":6.37,"y2":6.63}]},"mark":{"type":"rule","color":"#ff0000","strokeWidth":2},"encoding":{"x2":{"field":"x2"},"y2":{"field":"y2"}}},
{"data":{"values":[{"x":32.5,"y":6.5}]},"mark":{"type":"point","shape":"M-1,-0.4L1,0L-1,0.4Z","size":1225,"filled":true,"color":"#ff0000","opacity":1}},
{"data":{"values":[{"x":11.6,"y":6.33,"s":"No latency"},{"x":11.97,"y":6.16,"s":"100% failures"}]},"mark":{"type":"text","fontSize":15,"align":"center","baseline":"middle","color":"#ff0000"},"encoding":{"text":{"field":"s"}}}
]},
{"encoding":{"x":{"field":"x","type":"quantitative","scale":{"domain":[0,16.8,32,36],"range":[387,562,565,584],"nice":false,"zero":false},"axis":null},"y":{"field":"y","type":"quantitative","scale":{"domain":[-9.7,23,35,65],"range":[680,584.5,578,560],"nice":false,"zero":false},"axis":{"orient":"left","offset":-387,"values":[0,10,20,40],"title":"Basal (Hz)","domain":false,"labelPadding":4,"titleX":-54,"titleY":611,"titleAngle":270,"titleAlign":"center","titleBaseline":"middle"}}},
"layer":[
{"data":{"values":[{"x":3.85,"x2":36,"y":65,"y2":-9.7}]},"mark":{"type":"rect","fill":"#c3c3c3"},"encoding":{"x2":{"field":"x2"},"y2":{"field":"y2"}}},
{"data":{"values":[{"x":3.85,"x2":3.85,"y":65,"y2":-9.7},{"x":36,"x2":36,"y":65,"y2":-9.7}]},"mark":{"type":"rule","color":"#222","strokeWidth":2},"encoding":{"x2":{"field":"x2"},"y2":{"field":"y2"}}},
{"data":{"values":[{"x":0,"x2":0,"y":48,"y2":36},{"x":0,"x2":0,"y":23,"y2":-3.6}]},"mark":{"type":"rule","color":"#000","strokeWidth":2.5},"encoding":{"x2":{"field":"x2"},"y2":{"field":"y2"}}},
{"data":{"name":"dBas"},"mark":{"type":"circle","size":9,"color":"#000","opacity":1}},
{"data":{"name":"m3"},"mark":{"type":"rule","color":"#ff9900","strokeWidth":2.5},"encoding":{"y":{"field":"lo","type":"quantitative","scale":{"domain":[-9.7,23,35,65],"range":[680,584.5,578,560],"nice":false,"zero":false}},"y2":{"field":"hi"}}},
{"data":{"name":"m3"},"mark":{"type":"rule","color":"#ff9900","strokeWidth":2.5},"encoding":{"x":{"field":"xl","type":"quantitative","scale":{"domain":[0,16.8,32,36],"range":[387,562,565,584],"nice":false,"zero":false},"axis":null},"x2":{"field":"xr"},"y":{"field":"lo","type":"quantitative","scale":{"domain":[-9.7,23,35,65],"range":[680,584.5,578,560],"nice":false,"zero":false}}}},
{"data":{"name":"m3"},"mark":{"type":"rule","color":"#ff9900","strokeWidth":2.5},"encoding":{"x":{"field":"xl","type":"quantitative","scale":{"domain":[0,16.8,32,36],"range":[387,562,565,584],"nice":false,"zero":false},"axis":null},"x2":{"field":"xr"},"y":{"field":"hi","type":"quantitative","scale":{"domain":[-9.7,23,35,65],"range":[680,584.5,578,560],"nice":false,"zero":false}}}},
{"data":{"name":"m3"},"mark":{"type":"point","filled":true,"fill":"#ff9900","stroke":"#000","strokeWidth":0.8,"size":100,"opacity":1},"encoding":{"y":{"field":"m","type":"quantitative","scale":{"domain":[-9.7,23,35,65],"range":[680,584.5,578,560],"nice":false,"zero":false}}}},
{"data":{"values":[{"x":15.2,"y":8.0,"s":"*"},{"x":34.0,"y":50.8,"s":"**"}]},"mark":{"type":"text","fontSize":18,"align":"center","baseline":"middle","color":"#ff9900"},"encoding":{"text":{"field":"s"}}}
]},
{"encoding":{"x":{"field":"x","type":"quantitative","scale":{"domain":[0,16.8,32,36],"range":[387,562,565,584],"nice":false,"zero":false},"axis":{"orient":"bottom","offset":-49,"values":[0,5,10,15,34],"format":"d","title":"Time (min)","titleFontSize":19,"labelPadding":2,"titlePadding":3}},"y":{"field":"y","type":"quantitative","scale":{"domain":[-5.05,23.55],"range":[761,680],"nice":false,"zero":false},"axis":{"orient":"left","offset":-387,"values":[0,12],"format":"d","title":"Async (Δ Hz)","domain":false,"labelPadding":4,"titleX":-54,"titleY":718,"titleAngle":270,"titleAlign":"center","titleBaseline":"middle"}}},
"layer":[
{"data":{"values":[{"x":3.85,"x2":36,"y":23.55,"y2":-5.05}]},"mark":{"type":"rect","fill":"#c3c3c3"},"encoding":{"x2":{"field":"x2"},"y2":{"field":"y2"}}},
{"data":{"values":[{"x":3.85,"x2":3.85,"y":23.55,"y2":-5.05},{"x":36,"x2":36,"y":23.55,"y2":-5.05}]},"mark":{"type":"rule","color":"#222","strokeWidth":2},"encoding":{"x2":{"field":"x2"},"y2":{"field":"y2"}}},
{"data":{"values":[{"x":0,"x2":0,"y":20,"y2":-5.05}]},"mark":{"type":"rule","color":"#000","strokeWidth":2.5},"encoding":{"x2":{"field":"x2"},"y2":{"field":"y2"}}},
{"data":{"name":"dAsy"},"mark":{"type":"circle","size":9,"color":"#000","opacity":1}},
{"data":{"name":"m4"},"mark":{"type":"rule","color":"#0000ff","strokeWidth":2.5},"encoding":{"y":{"field":"lo","type":"quantitative","scale":{"domain":[-5.05,23.55],"range":[761,680],"nice":false,"zero":false}},"y2":{"field":"hi"}}},
{"data":{"name":"m4"},"mark":{"type":"rule","color":"#0000ff","strokeWidth":2.5},"encoding":{"x":{"field":"xl","type":"quantitative","scale":{"domain":[0,16.8,32,36],"range":[387,562,565,584],"nice":false,"zero":false}},"x2":{"field":"xr"},"y":{"field":"lo","type":"quantitative","scale":{"domain":[-5.05,23.55],"range":[761,680],"nice":false,"zero":false}}}},
{"data":{"name":"m4"},"mark":{"type":"rule","color":"#0000ff","strokeWidth":2.5},"encoding":{"x":{"field":"xl","type":"quantitative","scale":{"domain":[0,16.8,32,36],"range":[387,562,565,584],"nice":false,"zero":false}},"x2":{"field":"xr"},"y":{"field":"hi","type":"quantitative","scale":{"domain":[-5.05,23.55],"range":[761,680],"nice":false,"zero":false}}}},
{"data":{"name":"m4"},"mark":{"type":"point","filled":true,"fill":"#0000ff","stroke":"#000","strokeWidth":0.8,"size":100,"opacity":1},"encoding":{"y":{"field":"m","type":"quantitative","scale":{"domain":[-5.05,23.55],"range":[761,680],"nice":false,"zero":false}}}},
{"data":{"values":[{"x":15.1,"y":6.7,"s":"*"},{"x":33.9,"y":6.7,"s":"*"}]},"mark":{"type":"text","fontSize":18,"align":"center","baseline":"middle","color":"#0000ff"},"encoding":{"text":{"field":"s"}}},
{"data":{"values":[{"x":24,"y":-5.05,"s":"//"}]},"mark":{"type":"text","fontSize":15,"fontWeight":"bold","align":"center","baseline":"middle","color":"#000"},"encoding":{"text":{"field":"s"}}}
]}
],
"resolve":{"scale":{"x":"independent","y":"independent"},"axis":{"x":"independent","y":"independent"}}}
